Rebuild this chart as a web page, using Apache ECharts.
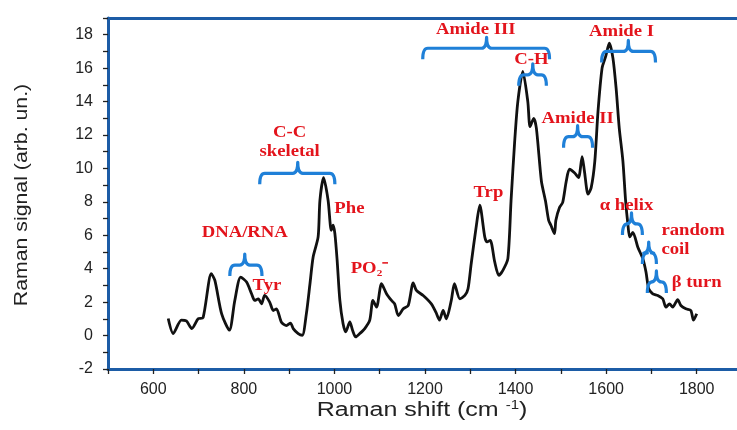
<!DOCTYPE html>
<html><head><meta charset="utf-8">
<script src="https://cdn.jsdelivr.net/npm/echarts@6/dist/echarts.min.js"></script>
<style>html,body{margin:0;padding:0;background:#fff}#c{width:737px;height:430px}</style>
</head><body><div id="c"></div>
<script>
// Raman spectrum
const ramanShift = [633,644,662,673,685,699,710,728,736,751,768,780,793,806,817,824,832,839,846,857,865,872,883,894,903,909,920,929,938,946,953,964,968,976,986,993,997,1001,1006,1012,1019,1025,1034,1040,1047,1056,1067,1078,1085,1093,1104,1115,1126,1133,1141,1152,1163,1174,1181,1196,1214,1224,1232,1240,1247,1258,1265,1277,1288,1295,1302,1313,1321,1332,1337,1344,1354,1363,1372,1383,1390,1398,1405,1416,1427,1432,1440,1446,1457,1466,1473,1478,1486,1489,1497,1504,1512,1519,1530,1539,1547,1552,1560,1567,1575,1582,1591,1599,1607,1615,1622,1629,1637,1643,1648,1652,1659,1670,1681,1688,1694,1703,1714,1725,1732,1740,1747,1758,1765,1776,1787,1793,1800];
const signal = [1.02,0.12,0.92,0.88,0.42,1.0,1.08,3.7,3.3,1.3,0.32,2.1,3.5,3.2,2.5,2.1,2.2,1.9,2.4,2.0,1.5,1.6,0.8,0.6,0.75,0.42,0.12,0.02,1.3,3.1,4.7,5.9,8.1,9.45,8.1,6.3,6.6,6.1,4.5,2.1,0.72,0.22,0.82,0.32,-0.08,0.12,0.42,0.92,2.1,1.7,3.1,2.5,2.1,1.9,1.2,1.6,1.8,3.15,2.7,2.4,1.9,1.4,0.92,1.5,1.0,2.1,3.1,2.2,2.4,2.8,4.3,6.5,7.8,5.9,5.6,5.7,4.4,3.6,3.9,4.6,8.06,11.6,14.0,15.8,14.0,12.5,13.0,12.4,9.25,8.06,6.9,6.6,6.1,6.9,7.66,7.96,9.25,9.95,9.74,9.45,10.7,9.85,8.46,8.85,10.44,13.4,16.0,16.7,17.5,16.6,14.8,12.4,10.44,8.06,6.67,5.9,6.17,5.28,4.6,3.8,2.8,2.5,2.4,2.2,1.7,1.9,1.7,2.15,1.8,1.6,1.5,0.92,1.3];

// Tick values and labels
const xTickValues = [500,600,700,800,900,1000,1100,1200,1300,1400,1500,1600,1700,1800];
const xLabelValues = [600,800,1000,1200,1400,1600,1800];
const yTickValues = [-2,-1,0,1,2,3,4,5,6,7,8,9,10,11,12,13,14,15,16,17,18,19];
const yLabelValues = [-2,0,2,4,6,8,10,12,14,16,18];

// Axis titles
const xTitle = 'Raman shift (cm {sup|-1})';
const yTitle = 'Raman signal (arb. un.)';

// Annotation labels (data coordinates)
const annoTexts = ['DNA/RNA','Tyr','C-C\nskeletal','Phe','PO₂⁻','Trp','Amide III','C-H','Amide II','Amide I','α helix','random\ncoil','β turn'];
const annoX = [802,851,901,1033,1078,1340,1312,1435,1537,1634,1645,1722,1745];
const annoY = [6.19,2.97,11.6,7.62,4.03,8.58,18.33,16.5,13.0,18.16,7.8,5.72,3.15];
const annoAlign = ['center','center','center','center','center','center','center','center','center','center','center','left','left'];

// Braces: left end, right end, nub position, bar level
const braceX1 = [769,835,1195,1407,1506,1590,1636,1680,1691];
const braceX2 = [840,1001,1475,1468,1570,1709,1680,1711,1733];
const braceMid = [802,919,1336,1438,1537,1649,1656,1694,1711];
const braceY = [4.22,9.71,17.19,15.6,11.9,17.0,6.68,4.94,3.21];

const frameColor = '#1c5ca6';
const braceColor = '#1f80d8';
const red = '#e3141c';
const tickFont = 'Liberation Sans';

const chart = echarts.init(document.getElementById('c'));
const braceData = braceX1.map((v, i) => [v, braceX2[i], braceMid[i], braceY[i]]);
const annoData = annoX.map((v, i) => [v, annoY[i], i]);

chart.setOption({
  animation: false,
  backgroundColor: '#fff',
  grid: { left: 108, top: 18, width: 634, bottom: 61, containLabel: false, outerBoundsMode: 'none' },
  xAxis: [{
    type: 'value', min: 500, max: 1900, interval: 100,
    axisLine: { show: true, onZero: false, lineStyle: { color: frameColor, width: 3 } },
    axisTick: { show: true, inside: false, length: 5, customValues: xTickValues, lineStyle: { color: '#222', width: 1.3 } },
    axisLabel: { margin: 13, fontFamily: tickFont, fontSize: 16, color: '#222', customValues: xLabelValues,
      formatter: v => (v % 200 === 0 && v >= 600 && v <= 1800) ? String(v) : '' },
    splitLine: { show: false }
  }, {
    type: 'value', position: 'top', min: 500, max: 1900,
    axisLine: { show: true, onZero: false, lineStyle: { color: frameColor, width: 3 } },
    axisTick: { show: false }, axisLabel: { show: false }, splitLine: { show: false }
  }],
  yAxis: [{
    type: 'value', min: -2, max: 19, interval: 1,
    axisLine: { show: true, onZero: false, lineStyle: { color: frameColor, width: 3 } },
    axisTick: { show: true, inside: false, length: 5, customValues: yTickValues, lineStyle: { color: '#222', width: 1.3 } },
    axisLabel: { margin: 15, fontFamily: tickFont, fontSize: 16, color: '#222', customValues: yLabelValues,
      formatter: v => (v % 2 === 0 && v <= 18) ? String(v) : '' },
    splitLine: { show: false }
  }],
  graphic: [{
    type: 'text', x: 422, y: 410, scaleX: 1.25, silent: true,
    style: { text: xTitle, fontFamily: tickFont, fontSize: 20, fill: '#222', align: 'center', verticalAlign: 'middle',
      rich: { sup: { fontFamily: tickFont, fontSize: 12, fill: '#222', padding: [0, 0, 9, 0] } } }
  }, {
    type: 'text', x: 22, y: 195, rotation: Math.PI / 2, scaleX: 1.12, silent: true,
    style: { text: yTitle, fontFamily: tickFont, fontSize: 19, fill: '#222', align: 'center', verticalAlign: 'middle' }
  }],
  series: [{
    type: 'line', data: ramanShift.map((x, i) => [x, signal[i]]),
    showSymbol: false, smooth: 0.25,
    lineStyle: { color: '#111', width: 2.8 }, z: 3
  }, {
    type: 'custom', data: braceData, silent: true, z: 5,
    encode: { x: [0, 1, 2], y: 3 },
    renderItem: (params, api) => {
      const a = api.coord([api.value(0), api.value(3)]);
      const b = api.coord([api.value(1), api.value(3)]);
      const m = api.coord([api.value(2), api.value(3)]);
      const y = a[1], arm = 11, nub = 11, r = 5;
      const d = `M${a[0]},${y + arm} Q${a[0]},${y} ${a[0] + r},${y} L${m[0] - r},${y} Q${m[0]},${y} ${m[0]},${y - nub} Q${m[0]},${y} ${m[0] + r},${y} L${b[0] - r},${y} Q${b[0]},${y} ${b[0]},${y + arm}`;
      return { type: 'path', shape: { pathData: d }, style: { stroke: braceColor, lineWidth: 3.2, fill: null, lineJoin: 'round', lineCap: 'butt' } };
    }
  }, {
    type: 'custom', data: annoData, silent: true, z: 6,
    encode: { x: 0, y: 1 },
    renderItem: (params, api) => {
      const p = api.coord([api.value(0), api.value(1)]);
      const i = api.value(2);
      return { type: 'text', x: p[0], y: p[1], scaleX: 1.1, style: {
        text: annoTexts[i], font: 'bold 17px "Liberation Serif"', fill: red,
        align: annoAlign[i], verticalAlign: 'middle', lineHeight: 19 } };
    }
  }]
});
</script>
</body></html>
